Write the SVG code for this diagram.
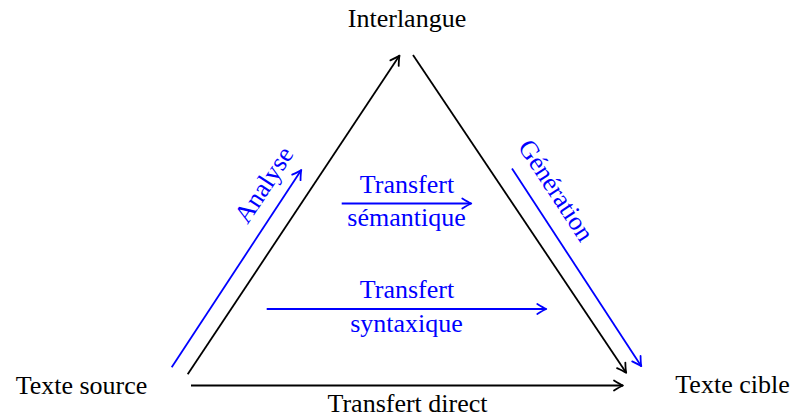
<svg xmlns="http://www.w3.org/2000/svg" width="792" height="416" viewBox="0 0 792 416">
  <style>
    text { font-family: "Liberation Serif", "Times New Roman", serif; font-size: 26px; }
    .k { fill: #000000; }
    .b { fill: #0000ff; }
    .lk { stroke: #000000; stroke-width: 1.8; fill: none; marker-end: url(#ak); }
    .lb { stroke: #0000ff; stroke-width: 1.8; fill: none; marker-end: url(#ab); }
  </style>
  <defs>
    <marker id="ak" markerUnits="userSpaceOnUse" viewBox="-11 -7 13 14" markerWidth="13" markerHeight="14" refX="0" refY="0" orient="auto" overflow="visible">
      <path d="M -9 -5 Q -3 -1.2 0 0 Q -3 1.2 -9 5" fill="none" stroke="#000000" stroke-width="1.8" stroke-linecap="round" stroke-linejoin="round"/>
    </marker>
    <marker id="ab" markerUnits="userSpaceOnUse" viewBox="-11 -7 13 14" markerWidth="13" markerHeight="14" refX="0" refY="0" orient="auto" overflow="visible">
      <path d="M -9 -5 Q -3 -1.2 0 0 Q -3 1.2 -9 5" fill="none" stroke="#0000ff" stroke-width="1.8" stroke-linecap="round" stroke-linejoin="round"/>
    </marker>
  </defs>

  <g id="interlangue"><text class="k" x="407" y="27" text-anchor="middle">Interlangue</text></g>
  <g id="texte-source"><text class="k" x="81.5" y="394" text-anchor="middle">Texte source</text></g>
  <g id="texte-cible"><text class="k" x="732.5" y="393" text-anchor="middle">Texte cible</text></g>

  <g id="connectors">
    <line class="lk" x1="187.7" y1="374.3" x2="399.5" y2="55.6"/>
    <line class="lk" x1="413" y1="55" x2="626.2" y2="372.8"/>
    <line class="lk" x1="191" y1="385.5" x2="623" y2="385.5"/>
    <line class="lb" x1="171.7" y1="367.3" x2="301.3" y2="169.9"/>
    <line class="lb" x1="512" y1="168.5" x2="641.3" y2="366.2"/>
    <line class="lb" x1="341.7" y1="203.5" x2="471.3" y2="203.5"/>
    <line class="lb" x1="266.7" y1="309" x2="546.3" y2="309"/>
  </g>

  <g id="label-direct"><text class="k" x="407.5" y="411.5" text-anchor="middle">Transfert direct</text></g>
  <g id="label-analyse"><text class="b" x="271" y="189.5" text-anchor="middle" transform="rotate(-56.6 271 189.5)">Analyse</text></g>
  <g id="label-generation"><text class="b" x="549" y="195" text-anchor="middle" transform="rotate(56.8 549 195)">Génération</text></g>
  <g id="label-semantique">
    <text class="b" x="407" y="193" text-anchor="middle">Transfert</text>
    <text class="b" x="406.5" y="226" text-anchor="middle">sémantique</text>
  </g>
  <g id="label-syntaxique">
    <text class="b" x="407" y="298" text-anchor="middle">Transfert</text>
    <text class="b" x="406.5" y="332" text-anchor="middle">syntaxique</text>
  </g>
</svg>
